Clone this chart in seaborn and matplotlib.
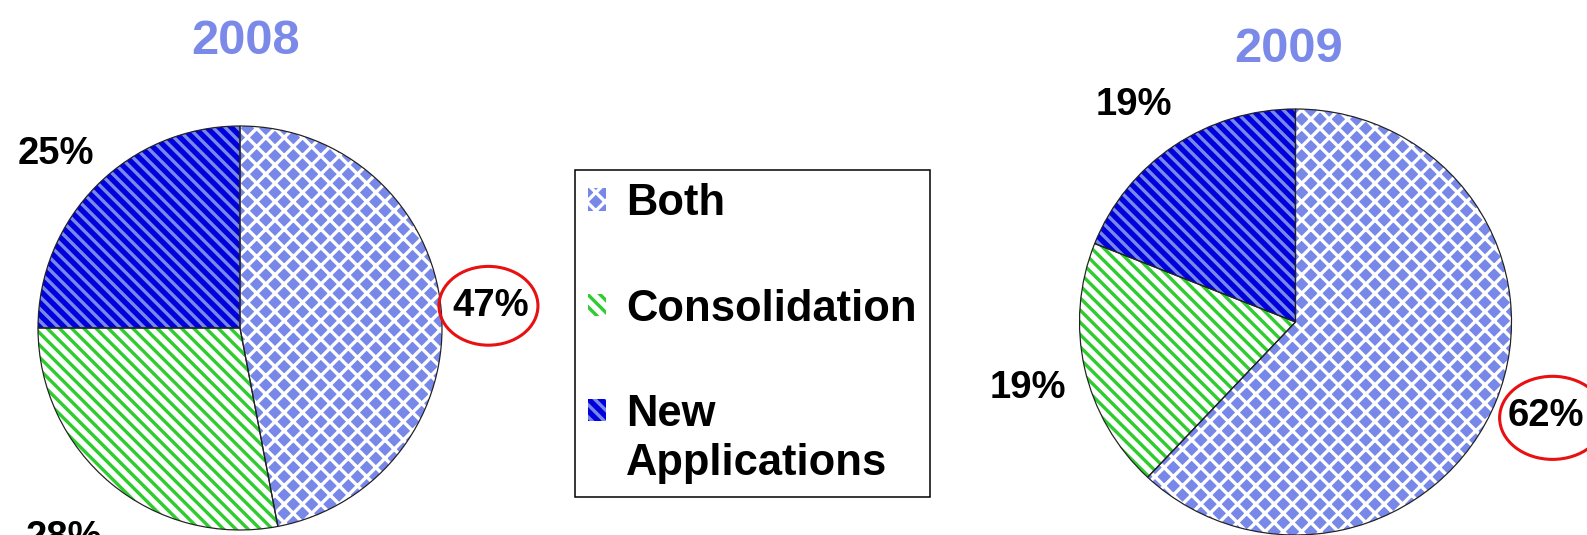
import matplotlib
matplotlib.use("Agg")
import matplotlib.pyplot as plt
import seaborn as sns
from matplotlib.patches import Ellipse, Rectangle
from matplotlib.legend_handler import HandlerPatch

# data
categories = ["Both", "Consolidation", "New\nApplications"]
years = ["2008", "2009"]
share_2008 = [47, 28, 25]
share_2009 = [62, 19, 19]

# styling per category
face_colors = ["#7888e8", "white", "#0000dd"]
hatch_colors = ["white", "#2ecc2e", "#7888e8"]
hatches = ["xx", "\\\\\\", "\\\\\\"]
title_color = "#7b8ae8"

DPI = 110
W, H = 1587, 535

sns.set_theme(style="white")
plt.rcParams["font.family"] = ["Liberation Sans", "DejaVu Sans"]
plt.rcParams["text.color"] = "black"
plt.rcParams["hatch.linewidth"] = 2.2


def px_box(cx, cy, rx, ry):
    # axes rectangle in figure fraction from pixel centre / radii (y from top)
    return [(cx - rx) / W, (H - (cy + ry)) / H, 2 * rx / W, 2 * ry / H]


def draw_pie(ax, shares):
    wedges, _ = ax.pie(shares, startangle=90, counterclock=False,
                       radius=1, wedgeprops=dict(linewidth=0))
    for w, fc, hc, h in zip(wedges, face_colors, hatch_colors, hatches):
        w.set_facecolor(fc)
        w.set_edgecolor(hc)
        w.set_hatch(h)
    # thin dark outline on top
    ax.pie(shares, startangle=90, counterclock=False, radius=1,
           wedgeprops=dict(facecolor="none", edgecolor="#222222", linewidth=0.8))
    ax.set_aspect("auto")
    ax.set_xlim(-1, 1)
    ax.set_ylim(-1, 1)
    ax.set_axis_off()
    return wedges


def pct_label(ax, x, y, value, circled=None):
    ax.text(x, y, f"{value}%", ha="center", va="center", fontsize=25,
            fontweight="bold", color="black", clip_on=False)
    if circled is not None:
        ax.add_patch(Ellipse(circled, 0.49, 0.39, facecolor="none",
                             edgecolor="#e81010", linewidth=2.0, clip_on=False))


def raised_patch(legend, orig_handle, xdescent, ydescent, width, height, fontsize):
    # put the swatch next to the first line of a two-line label
    return Rectangle((-xdescent, -ydescent + 0.68 * fontsize), width, height)


fig = plt.figure(figsize=(W / DPI, H / DPI), dpi=DPI)
fig.patch.set_facecolor("white")

ax1 = fig.add_axes(px_box(240, 328, 202, 202))
wedges = draw_pie(ax1, share_2008)
pct_label(ax1, -0.91, 0.86, share_2008[2])
pct_label(ax1, -0.87, -1.04, share_2008[1])
pct_label(ax1, 1.24, 0.11, share_2008[0], circled=(1.23, 0.11))

ax2 = fig.add_axes(px_box(1295.5, 322, 216, 213))
draw_pie(ax2, share_2009)
pct_label(ax2, -0.75, 1.02, share_2009[2])
pct_label(ax2, -1.24, -0.31, share_2009[1])
pct_label(ax2, 1.16, -0.44, share_2009[0], circled=(1.19, -0.45))

fig.text(246 / W, 1 - 41 / H, years[0], ha="center", va="center",
         fontsize=32, fontweight="bold", color=title_color)
fig.text(1289 / W, 1 - 50 / H, years[1], ha="center", va="center",
         fontsize=32, fontweight="bold", color=title_color)

leg = fig.legend(wedges, categories, loc="upper left",
                 bbox_to_anchor=(575 / W, 1 - 170 / H),
                 prop={"family": "Liberation Sans", "weight": "bold", "size": 28.5},
                 frameon=True, fancybox=False, framealpha=1, edgecolor="black",
                 handlelength=0.42, handleheight=0.42, handletextpad=0.45,
                 labelspacing=1.48, borderpad=0.3, borderaxespad=0,
                 labelcolor="black",
                 handler_map={wedges[2]: HandlerPatch(patch_func=raised_patch)})
leg.get_frame().set_linewidth(1.0)
leg.get_texts()[2].set_linespacing(1.25)

fig.savefig("out.png", dpi=DPI, facecolor="white")
